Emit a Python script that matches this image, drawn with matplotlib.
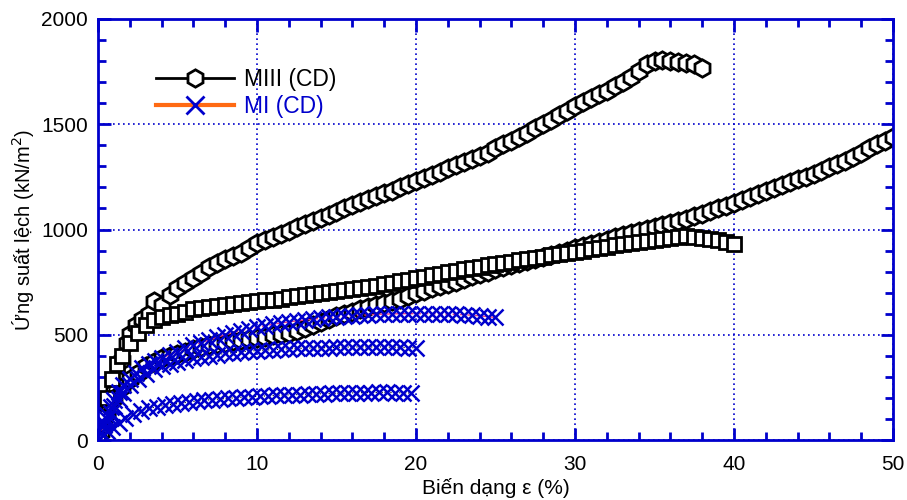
import matplotlib
matplotlib.use("Agg")
import matplotlib.pyplot as plt
from matplotlib.lines import Line2D

plt.rcParams['font.family'] = ['Liberation Sans', 'DejaVu Sans']

# ==========================================
# 1. DU LIEU (doc tu hinh)
# ==========================================
# MIII (CD) - duong luc giac tren
miii_x = [0, 0.2, 0.4, 0.6, 0.8, 1.0, 1.2, 1.5, 1.8, 2.0,
          2.4, 2.8, 3.2, 3.5, 4.0, 4.5, 5.0, 5.5, 6.0, 6.5,
          7.0, 7.5, 8.0, 8.5, 9.0, 9.5, 10.0, 10.5, 11.0, 11.5,
          12.0, 12.5, 13.0, 13.5, 14.0, 14.5, 15.0, 15.5, 16.0, 16.5,
          17.0, 17.5, 18.0, 18.5, 19.0, 19.5, 20.0, 20.5, 21.0, 21.5,
          22.0, 22.5, 23.0, 23.5, 24.0, 24.5, 25.0, 25.5, 26.0, 26.5,
          27.0, 27.5, 28.0, 28.5, 29.0, 29.5, 30.0, 30.5, 31.0, 31.5,
          32.0, 32.5, 33.0, 33.5, 34.0, 34.5, 35.0, 35.5, 36.0, 36.5,
          37.0, 37.5, 38.0]
miii_y = [0, 40, 90, 140, 190, 230, 290, 380, 460, 505,
          545, 575, 600, 660, 640, 690, 720, 745, 770, 795,
          820, 840, 860, 875, 890, 910, 935, 950, 965, 980,
          995, 1010, 1025, 1040, 1055, 1070, 1085, 1100, 1115, 1130,
          1145, 1160, 1172, 1185, 1200, 1215, 1230, 1245, 1260, 1275,
          1290, 1305, 1320, 1335, 1350, 1365, 1385, 1405, 1420, 1440,
          1460, 1480, 1500, 1520, 1545, 1565, 1585, 1605, 1625, 1645,
          1660, 1680, 1700, 1725, 1755, 1785, 1800, 1805, 1800, 1795,
          1790, 1785, 1765]

# duong luc giac duoi (den 50%)
hex2_x = [0, 0.3, 0.6, 1.0, 1.5, 2.0, 2.5, 3.0, 3.5, 4.0,
          4.5, 5.0, 5.5, 6.0, 6.5, 7.0, 7.5, 8.0, 8.5, 9.0,
          9.5, 10.0, 10.5, 11.0, 11.5, 12.0, 12.5, 13.0, 13.5, 14.0,
          14.5, 15.0, 15.5, 16.0, 16.5, 17.0, 17.5, 18.0, 18.5, 19.0,
          19.5, 20.0, 20.5, 21.0, 21.5, 22.0, 22.5, 23.0, 23.5, 24.0,
          24.5, 25.0, 25.5, 26.0, 26.5, 27.0, 27.5, 28.0, 28.5, 29.0,
          29.5, 30.0, 30.5, 31.0, 31.5, 32.0, 32.5, 33.0, 33.5, 34.0,
          34.5, 35.0, 35.5, 36.0, 36.5, 37.0, 37.5, 38.0, 38.5, 39.0,
          39.5, 40.0, 40.5, 41.0, 41.5, 42.0, 42.5, 43.0, 43.5, 44.0,
          44.5, 45.0, 45.5, 46.0, 46.5, 47.0, 47.5, 48.0, 48.5, 49.0,
          49.5, 50.0]
hex2_y = [0, 70, 130, 200, 250, 290, 320, 350, 370, 390,
          400, 410, 420, 430, 440, 450, 455, 460, 468, 475,
          480, 485, 490, 500, 505, 510, 520, 530, 545, 560,
          575, 590, 600, 610, 620, 630, 640, 650, 660, 672,
          685, 700, 710, 720, 730, 740, 750, 765, 778, 790,
          800, 810, 820, 830, 840, 850, 860, 870, 880, 890,
          900, 912, 922, 932, 942, 952, 962, 972, 982, 992,
          1002, 1012, 1022, 1032, 1042, 1052, 1062, 1074, 1088, 1102,
          1114, 1126, 1140, 1154, 1168, 1182, 1196, 1210, 1224, 1238,
          1250, 1265, 1280, 1295, 1310, 1325, 1345, 1365, 1385, 1405,
          1420, 1440]

# duong o vuong (den 40%)
sq_x = [0, 0.3, 0.6, 0.9, 1.2, 1.5, 2.0, 2.5, 3.0, 3.5,
        4.0, 4.5, 5.0, 5.5, 6.0, 6.5, 7.0, 7.5, 8.0, 8.5,
        9.0, 9.5, 10.0, 10.5, 11.0, 11.5, 12.0, 12.5, 13.0, 13.5,
        14.0, 14.5, 15.0, 15.5, 16.0, 16.5, 17.0, 17.5, 18.0, 18.5,
        19.0, 19.5, 20.0, 20.5, 21.0, 21.5, 22.0, 22.5, 23.0, 23.5,
        24.0, 24.5, 25.0, 25.5, 26.0, 26.5, 27.0, 27.5, 28.0, 28.5,
        29.0, 29.5, 30.0, 30.5, 31.0, 31.5, 32.0, 32.5, 33.0, 33.5,
        34.0, 34.5, 35.0, 35.5, 36.0, 36.5, 37.0, 37.5, 38.0, 38.5,
        39.0, 39.5, 40.0]
sq_y = [0, 110, 200, 290, 360, 400, 460, 510, 545, 570,
        585, 595, 600, 610, 620, 625, 630, 635, 640, 645,
        650, 655, 660, 663, 667, 672, 677, 682, 687, 692,
        697, 702, 707, 712, 717, 722, 727, 733, 740, 747,
        754, 761, 768, 775, 782, 789, 796, 803, 810, 817,
        823, 829, 835, 841, 847, 853, 859, 865, 871, 877,
        883, 888, 894, 900, 906, 912, 918, 924, 930, 935,
        940, 945, 950, 955, 960, 965, 968, 966, 960, 955,
        948, 940, 932]

# MI (CD) - 3 duong dau x
mi1_x = [0, 0.2, 0.4, 0.6, 0.8, 1.0, 1.3, 1.6, 2.0, 2.4,
         2.8, 3.2, 3.6, 4.0, 4.5, 5.0, 5.5, 6.0, 6.5, 7.0,
         7.5, 8.0, 8.5, 9.0, 9.5, 10.0, 10.5, 11.0, 11.5, 12.0,
         12.5, 13.0, 13.5, 14.0, 14.5, 15.0, 15.5, 16.0, 16.5, 17.0,
         17.5, 18.0, 18.5, 19.0, 19.5, 20.0, 20.5, 21.0, 21.5, 22.0,
         22.5, 23.0, 23.5, 24.0, 24.5, 25.0]
mi1_y = [0, 40, 80, 120, 155, 190, 230, 260, 290, 320,
         340, 360, 375, 390, 405, 420, 435, 450, 462, 475,
         488, 500, 510, 520, 528, 535, 543, 550, 556, 561,
         566, 570, 574, 578, 582, 585, 588, 590, 592, 595,
         597, 598, 599, 600, 600, 600, 600, 600, 599, 598,
         597, 595, 593, 590, 586, 582]

mi2_x = [0, 0.2, 0.4, 0.6, 0.8, 1.0, 1.3, 1.6, 2.0, 2.5,
         3.0, 3.5, 4.0, 4.5, 5.0, 5.5, 6.0, 6.5, 7.0, 7.5,
         8.0, 8.5, 9.0, 9.5, 10.0, 10.5, 11.0, 11.5, 12.0, 12.5,
         13.0, 13.5, 14.0, 14.5, 15.0, 15.5, 16.0, 16.5, 17.0, 17.5,
         18.0, 18.5, 19.0, 19.5, 20.0]
mi2_y = [0, 35, 70, 100, 130, 160, 195, 225, 260, 290,
         315, 335, 350, 362, 372, 380, 388, 395, 401, 406,
         411, 415, 419, 422, 425, 427, 429, 431, 433, 435,
         436, 437, 438, 439, 440, 441, 442, 442, 442, 442,
         442, 441, 440, 439, 438]

mi3_x = [0, 0.3, 0.6, 0.9, 1.3, 1.7, 2.2, 2.7, 3.2, 3.7,
         4.2, 4.7, 5.2, 5.7, 6.2, 6.7, 7.2, 7.7, 8.2, 8.7,
         9.2, 9.7, 10.2, 10.7, 11.2, 11.7, 12.2, 12.7, 13.2, 13.7,
         14.2, 14.7, 15.2, 15.7, 16.2, 16.7, 17.2, 17.7, 18.2, 18.7,
         19.2, 19.7]
mi3_y = [0, 25, 45, 60, 80, 105, 125, 140, 150, 158,
         165, 170, 175, 180, 185, 189, 192, 195, 198, 201,
         204, 206, 208, 210, 212, 214, 215, 216, 218, 219,
         220, 221, 222, 223, 224, 225, 225, 226, 226, 225,
         224, 223]

xticks = [0, 10, 20, 30, 40, 50]
yticks = [0, 500, 1000, 1500, 2000]

# ==========================================
# 2. VE DO THI
# ==========================================
blue = '#0000cc'
fig = plt.figure(figsize=(9.07, 5.0), dpi=100)
ax = fig.add_axes([0.108, 0.12, 0.8766, 0.842])

hex_style = dict(color='black', lw=1, marker='h', ms=12.5, mfc='white', mec='black', mew=2)
ax.plot(miii_x, miii_y, **hex_style)
ax.plot(hex2_x, hex2_y, **hex_style)
ax.plot(sq_x, sq_y, color='black', lw=1, marker='s', ms=10, mfc='white', mec='black', mew=2)

x_style = dict(marker='x', ms=11.5, mec=blue, mew=1.8)
ax.plot(mi1_x, mi1_y, color='#f0407a', lw=1, ls='--', **x_style)
ax.plot(mi2_x, mi2_y, color='black', lw=0.8, ls=':', **x_style)
ax.plot(mi3_x, mi3_y, color='black', lw=0.8, ls=':', **x_style)

ax.set_xlim(0, 50)
ax.set_ylim(0, 2000)
ax.set_xticks(xticks)
ax.set_yticks(yticks)
ax.set_xticks(range(0, 51, 2), minor=True)
ax.set_yticks(range(0, 2001, 100), minor=True)
ax.tick_params(which='both', direction='in', top=True, right=True, color=blue, width=2,
               labelsize=15, labelcolor='black')
ax.tick_params(which='major', length=9)
ax.tick_params(axis='x', which='major', pad=11)
ax.tick_params(axis='y', which='major', pad=7)
ax.tick_params(which='minor', length=6)
for s in ax.spines.values():
    s.set_color(blue)
    s.set_linewidth(2)
ax.grid(True, which='major', color=blue, ls=(0, (1, 2)), lw=1.2)

ax.set_xlabel('Biến dạng ε (%)', fontsize=15, labelpad=3)
ax.set_ylabel('Ứng suất lệch (kN/m$^2$)', fontsize=14.5, labelpad=4)

handles = [Line2D([], [], color='black', lw=2, marker='h', ms=12.5, mfc='white', mec='black', mew=2),
           Line2D([], [], color='#ff6a13', lw=3, marker='x', ms=12.5, mec=blue, mew=2)]
leg = ax.legend(handles, ['MIII (CD)', 'MI (CD)'], loc='upper left', bbox_to_anchor=(0.062, 0.905),
                frameon=False, fontsize=16.5, handlelength=3.4, handletextpad=0.4, labelspacing=0.15,
                borderaxespad=0)
leg.get_texts()[1].set_color(blue)

plt.savefig('out.png', dpi=100)
